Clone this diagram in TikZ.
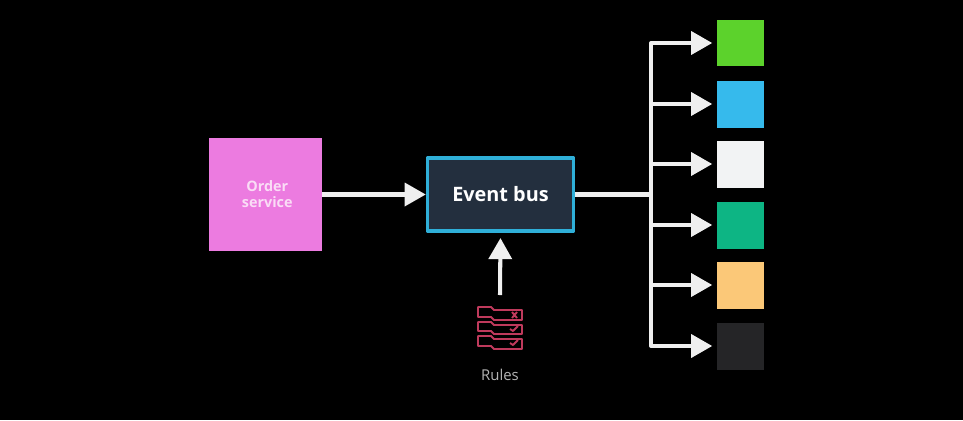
\documentclass[tikz,border=0pt]{standalone}
\usepackage{fontspec}
\setmainfont{Open Sans}
\usetikzlibrary{arrows.meta}
\definecolor{ordercol}{HTML}{EC7BE0}
\definecolor{ordertxt}{HTML}{FADCF6}
\definecolor{busfill}{HTML}{232F3E}
\definecolor{busline}{HTML}{2FAFD8}
\definecolor{flowcol}{HTML}{EFEFEF}
\definecolor{rulecol}{HTML}{BF3A5C}
\definecolor{ruletxt}{HTML}{B4B4B4}
\definecolor{sinkA}{HTML}{5CD22C}
\definecolor{sinkB}{HTML}{36BAEC}
\definecolor{sinkC}{HTML}{F2F3F4}
\definecolor{sinkD}{HTML}{0DB584}
\definecolor{sinkE}{HTML}{FBC878}
\definecolor{sinkF}{HTML}{252527}
\begin{document}
\begin{tikzpicture}[x=0.02cm,y=-0.02cm,line join=round,
    flow/.style={draw=flowcol,line width=2.3pt,-{Triangle[length=12pt,width=13pt]}},
    sink/.style={minimum size=0.94cm,inner sep=0pt},
    rulebar/.style={draw=rulecol,line width=1.1pt}]
  \fill[black] (0,0) rectangle (963,420);
  \useasboundingbox (0,0) rectangle (963,420);
  \node[fill=ordercol,minimum size=2.26cm,inner sep=0pt,align=center,text=ordertxt,
    font=\fontsize{8.2}{9.2}\selectfont\bfseries] (order) at (265.5,194.5) {\hspace*{2pt}Order\\\hspace*{2pt}service};
  \node[fill=busfill,draw=busline,line width=2pt,minimum width=2.92cm,minimum height=1.46cm,
    inner sep=0pt,text=white,font=\fontsize{11.3}{12}\selectfont\bfseries] (bus) at (500.5,194.5) {Event bus};
  \node[sink,fill=sinkA] (sink1) at (740.5,43) {};
  \node[sink,fill=sinkB] (sink2) at (740.5,104) {};
  \node[sink,fill=sinkC] (sink3) at (740.5,164) {};
  \node[sink,fill=sinkD] (sink4) at (740.5,225) {};
  \node[sink,fill=sinkE] (sink5) at (740.5,285) {};
  \node[sink,fill=sinkF] (sink6) at (740.5,346) {};
  \node[text=ruletxt,font=\fontsize{8.5}{9}\selectfont] (rules) at (500,375) {Rules};
  \coordinate (hub) at (651,194.5);
  \coordinate (icon) at (500,295);
  % connectors
  \draw[flow] (order.east) -- (bus.west);
  \draw[flow,shorten >=3pt] (icon) -- (bus.south);
  \draw[draw=flowcol,line width=2.3pt] (bus.east) -- (hub);
  \draw[flow,shorten >=2.5pt] (hub) |- (sink1.west);
  \draw[flow,shorten >=2.5pt] (hub) |- (sink2.west);
  \draw[flow,shorten >=2.5pt] (hub) |- (sink3.west);
  \draw[flow,shorten >=2.5pt] (hub) |- (sink4.west);
  \draw[flow,shorten >=2.5pt] (hub) |- (sink5.west);
  \draw[flow,shorten >=2.5pt] (hub) |- (sink6.west);
  % rules icon
  \draw[rulebar] (478,307) -- (491,307) -- (494,310) -- (522,310) -- (522,320) -- (494,320) -- (491,317) -- (478,317) -- cycle;
  \draw[rulebar] (478,322) -- (491,322) -- (494,325) -- (522,325) -- (522,334) -- (494,334) -- (491,331) -- (478,331) -- cycle;
  \draw[rulebar] (478,336) -- (491,336) -- (494,339) -- (522,339) -- (522,349) -- (494,349) -- (491,346) -- (478,346) -- cycle;
  \draw[rulebar] (512,312) -- (517,318) (517,312) -- (512,318);
  \draw[rulebar] (510,329) -- (513,331) -- (518,326);
  \draw[rulebar] (510,343) -- (513,345) -- (518,340);
\end{tikzpicture}
\end{document}
